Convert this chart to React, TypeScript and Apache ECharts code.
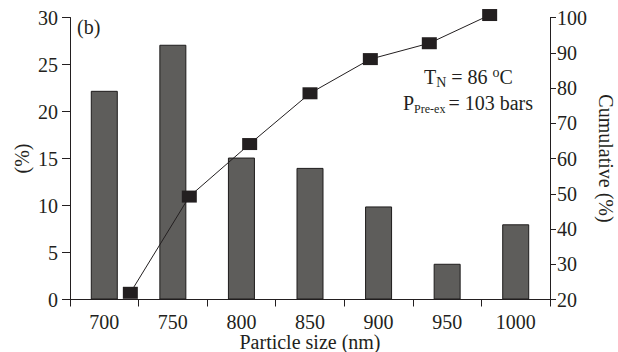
import React, { useEffect, useRef } from "react";
import * as echarts from "echarts";

const categories = ["700", "750", "800", "850", "900", "950", "1000"];
const percentValues = [22.2, 27.1, 15.1, 14.0, 9.9, 3.8, 8.0];
const cumulativeSizes = [719, 762, 806, 850, 894, 937, 981];
const cumulativeValues = [21.9, 49.2, 64.1, 78.5, 88.2, 92.7, 100.7];

const FONT = "Liberation Serif";
const INK = "#231f20";
const FS = 20;

export default function App() {
  const ref = useRef<HTMLDivElement>(null);
  useEffect(() => {
    if (!ref.current) return;
    const chart = echarts.init(ref.current, undefined, { renderer: "svg" });
    const axisLine = { show: true, lineStyle: { color: INK, width: 1 } };
    chart.setOption({
      animation: false,
      textStyle: { fontFamily: FONT, color: INK },
      grid: {
        left: 70,
        right: 68,
        top: 17.5,
        bottom: 52.5,
        containLabel: false,
        outerBoundsMode: "none",
      },
      xAxis: [
        {
          type: "category",
          data: categories,
          boundaryGap: true,
          axisLine,
          axisTick: { show: true, length: 7, alignWithLabel: false, lineStyle: { color: INK } },
          axisLabel: { fontFamily: FONT, fontSize: FS, lineHeight: 20, color: INK, margin: 12 },
          name: "Particle size (nm)",
          nameLocation: "middle",
          nameGap: 32.5,
          nameMoveOverlap: false,
          nameTextStyle: { fontFamily: FONT, fontSize: FS, lineHeight: 20, color: INK },
        },
        {
          type: "value",
          min: 675,
          max: 1025,
          show: false,
        },
      ],
      yAxis: [
        {
          type: "value",
          min: 0,
          max: 30,
          interval: 5,
          position: "left",
          axisLine,
          axisTick: { show: true, length: 8, lineStyle: { color: INK } },
          axisLabel: { fontFamily: FONT, fontSize: FS, color: INK, margin: 12 },
          splitLine: { show: false },
          name: "(%)",
          nameLocation: "middle",
          nameGap: 38,
          nameMoveOverlap: false,
          nameTextStyle: { fontFamily: FONT, fontSize: FS, color: INK },
        },
        {
          type: "value",
          min: 20,
          max: 100,
          interval: 10,
          position: "right",
          axisLine,
          axisTick: { show: true, length: 6, lineStyle: { color: INK } },
          axisLabel: { fontFamily: FONT, fontSize: FS, color: INK, margin: 7 },
          splitLine: { show: false },
          name: "Cumulative (%)",
          nameLocation: "middle",
          nameRotate: -90,
          nameGap: 46,
          nameMoveOverlap: false,
          nameTextStyle: { fontFamily: FONT, fontSize: FS, color: INK },
        },
      ],
      series: [
        {
          type: "bar",
          xAxisIndex: 0,
          yAxisIndex: 0,
          data: percentValues,
          barWidth: 27,
          itemStyle: { color: "#5e5d5b", borderColor: "#1e1c1c", borderWidth: 1 },
        },
        {
          type: "line",
          xAxisIndex: 1,
          yAxisIndex: 1,
          data: cumulativeSizes.map((s, i) => [s, cumulativeValues[i]]),
          clip: false,
          symbol: "rect",
          symbolSize: [15, 12],
          itemStyle: { color: INK },
          lineStyle: { color: INK, width: 1 },
        },
      ],
      graphic: [
        {
          type: "text",
          left: 77,
          top: 17,
          style: { text: "(b)", font: `${FS}px "${FONT}"`, fill: INK },
        },
        {
          type: "text",
          left: 424,
          top: 65,
          style: {
            text: "{m|T}{sub|N}{m| = 86 }{sup|o}{m|C}",
            fill: INK,
            rich: {
              m: { fontFamily: FONT, fontSize: FS, lineHeight: 24, fill: INK },
              sub: { fontFamily: FONT, fontSize: 14, lineHeight: 8, verticalAlign: "bottom", fill: INK },
              sup: { fontFamily: FONT, fontSize: 14, lineHeight: 8, verticalAlign: "top", fill: INK },
            },
          },
        },
        {
          type: "text",
          left: 403,
          top: 93,
          style: {
            text: "{m|P}{sub|Pre-ex}{eq|= 103 bars}",
            fill: INK,
            rich: {
              m: { fontFamily: FONT, fontSize: FS, lineHeight: 24, fill: INK },
              eq: { fontFamily: FONT, fontSize: FS, lineHeight: 24, fill: INK, padding: [0, 0, 0, 3] },
              sub: { fontFamily: FONT, fontSize: 12, lineHeight: 8, verticalAlign: "bottom", fill: INK },
            },
          },
        },
      ],
    });
    return () => chart.dispose();
  }, []);
  return (
    <div
      ref={ref}
      style={{ position: "fixed", left: 0, top: 0, width: 618, height: 352, background: "#fff" }}
    />
  );
}
